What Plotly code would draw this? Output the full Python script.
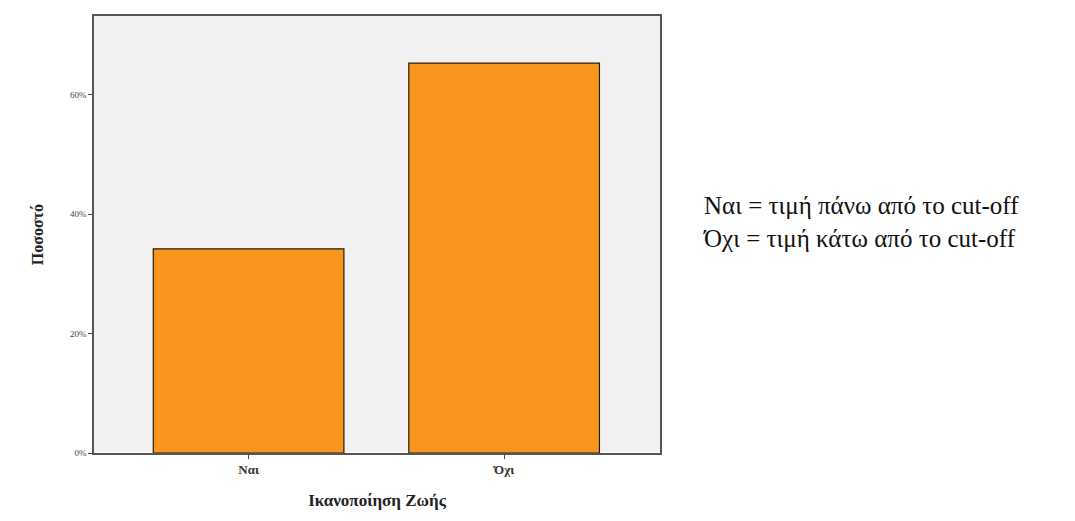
import plotly.graph_objects as go

categories = ["Ναι", "Όχι"]
values = [34.2, 65.3]
tick_vals = [0, 20, 40, 60]
tick_text = ["0%", "20%", "40%", "60%"]

fig = go.Figure()
fig.add_trace(go.Bar(
    x=categories, y=values, width=0.746,
    marker=dict(color="#F7951E", line=dict(color="#2a1a0a", width=1.2)),
))

fig.update_layout(
    width=1075, height=521,
    margin=dict(l=86, r=423, t=6, b=76),
    paper_bgcolor="white", plot_bgcolor="#F1F1F1",
    showlegend=False,
    font=dict(family="Liberation Serif", color="#222"),
    xaxis=dict(
        range=[-0.605, 1.61], showgrid=False, ticks="outside", ticklen=4,
        tickfont=dict(size=13, family="Liberation Serif", color="#333"),
        showline=True, linecolor="#555", mirror=True, linewidth=1.5,
        title=dict(text="<b>Ικανοποίηση Ζωής</b>", font=dict(size=17, family="Liberation Serif"), standoff=18),
    ),
    yaxis=dict(
        range=[0, 73.2], showgrid=False, ticks="outside", ticklen=4,
        tickvals=tick_vals, ticktext=tick_text,
        tickfont=dict(size=9, family="Liberation Serif", color="#444"),
        showline=True, linecolor="#555", mirror=True, linewidth=1.5,
        title=dict(text="<b>Ποσοστό</b>", font=dict(size=16, family="Liberation Serif"), standoff=22),
    ),
)
fig.update_xaxes(tickprefix="<b>", ticksuffix="</b>")

fig.add_annotation(
    text="Ναι = τιμή πάνω από το cut-off<br>Όχι = τιμή κάτω από το cut-off",
    xref="paper", yref="paper", x=1.072, y=0.528, xanchor="left", yanchor="middle",
    showarrow=False, align="left",
    font=dict(size=25, family="Liberation Serif", color="#111"),
)

fig.write_html("out.html")
